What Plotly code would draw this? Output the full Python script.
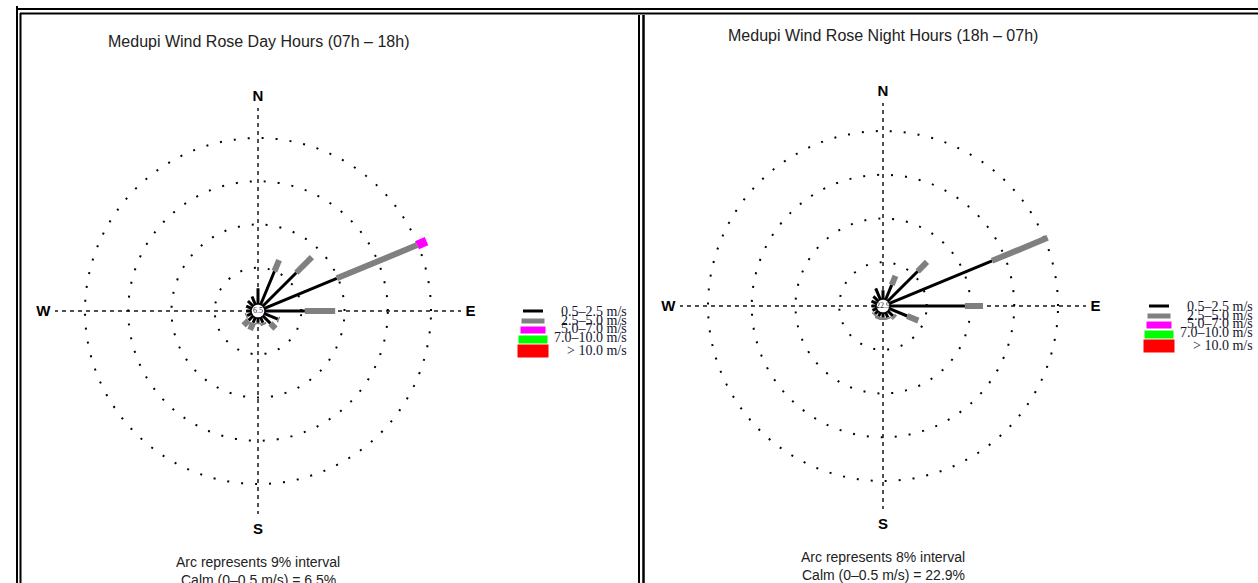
import plotly.graph_objects as go

W, H = 1258, 583

# Compass sectors (16-point rose) and their bearings in degrees
DIRECTIONS = ["N", "NNE", "NE", "ENE", "E", "ESE", "SE", "SSE",
              "S", "SSW", "SW", "WSW", "W", "WNW", "NW", "NNW"]
DIR_DEGREES = [0, 22.5, 45, 67.5, 90, 112.5, 135, 157.5,
               180, 202.5, 225, 247.5, 270, 292.5, 315, 337.5]

SPEED_CLASSES = ["0.5\u20132.5 m/s", "2.5\u20135.0 m/s", "5.0\u20137.0 m/s",
                 "7.0\u201310.0 m/s", "> 10.0 m/s"]
CLASS_COLORS = ["#000000", "#808080", "#ff00ff", "#00ff00", "#ff0000"]

# Frequency (%) per direction for each speed class - day hours (07h-18h)
DAY_0_5_2_5 = [3.3, 7.5, 9.8, 16.3, 8.3, 3.0, 2.2, 1.2, 1.0, 1.2, 1.3, 1.0, 1.0, 1.2, 1.5, 1.8]
DAY_2_5_5_0 = [0.0, 2.5, 4.6, 18.1, 6.3, 0.3, 1.5, 0.5, 0.3, 1.6, 1.5, 0.3, 0.0, 0.0, 0.0, 0.0]
DAY_5_0_7_0 = [0.0, 0.0, 0.0, 2.1, 0.0, 0.0, 0.0, 0.0, 0.0, 0.0, 0.0, 0.0, 0.0, 0.0, 0.0, 0.0]
DAY_7_0_10_0 = [0.0, 0.0, 0.0, 0.0, 0.0, 0.0, 0.0, 0.0, 0.0, 0.0, 0.0, 0.0, 0.0, 0.0, 0.0, 0.0]
DAY_GT_10_0 = [0.0, 0.0, 0.0, 0.0, 0.0, 0.0, 0.0, 0.0, 0.0, 0.0, 0.0, 0.0, 0.0, 0.0, 0.0, 0.0]
DAY_CALM = 6.5
DAY_ARC = 9

# Frequency (%) per direction for each speed class - night hours (18h-07h)
NIGHT_0_5_2_5 = [1.6, 2.9, 7.7, 20.3, 13.7, 3.5, 1.3, 1.0, 0.8, 0.8, 0.8, 0.8, 0.8, 1.0, 1.2, 2.2]
NIGHT_2_5_5_0 = [0.0, 1.8, 2.4, 11.0, 3.3, 2.2, 0.5, 0.3, 0.5, 0.5, 0.3, 0.0, 0.0, 0.0, 0.0, 0.0]
NIGHT_5_0_7_0 = [0.0, 0.0, 0.0, 0.0, 0.0, 0.0, 0.0, 0.0, 0.0, 0.0, 0.0, 0.0, 0.0, 0.0, 0.0, 0.0]
NIGHT_7_0_10_0 = [0.0, 0.0, 0.0, 0.0, 0.0, 0.0, 0.0, 0.0, 0.0, 0.0, 0.0, 0.0, 0.0, 0.0, 0.0, 0.0]
NIGHT_GT_10_0 = [0.0, 0.0, 0.0, 0.0, 0.0, 0.0, 0.0, 0.0, 0.0, 0.0, 0.0, 0.0, 0.0, 0.0, 0.0, 0.0]
NIGHT_CALM = 22.9
NIGHT_ARC = 8

DAY_TITLE = "Medupi Wind Rose Day Hours (07h \u2013 18h)"
NIGHT_TITLE = "Medupi Wind Rose Night Hours (18h \u2013 07h)"

SANS = "Liberation Sans, Arial, sans-serif"
SERIF = "Liberation Serif, Times New Roman, serif"

# bar thickness (px) for each speed class, thicker for stronger winds
BAR_WIDTHS = [3, 6, 9, 11, 13]


def px(x):
    return x / W


def py(y):
    return 1 - y / H


panels = [
    dict(polar="polar", classes=[DAY_0_5_2_5, DAY_2_5_5_0, DAY_5_0_7_0, DAY_7_0_10_0, DAY_GT_10_0],
         calm=DAY_CALM, arc=DAY_ARC, title=DAY_TITLE, cx=258, cy=311, radius=203,
         ring_px=173, calm_px=7, title_y=41, foot_y=562, legend_x=533),
    dict(polar="polar2", classes=[NIGHT_0_5_2_5, NIGHT_2_5_5_0, NIGHT_5_0_7_0, NIGHT_7_0_10_0, NIGHT_GT_10_0],
         calm=NIGHT_CALM, arc=NIGHT_ARC, title=NIGHT_TITLE, cx=883, cy=306, radius=203,
         ring_px=175, calm_px=7, title_y=36, foot_y=557, legend_x=1159),
]

fig = go.Figure()
shapes = []
annotations = []


def note(text, x, y, size, family=SANS, color="#222", xanchor="center"):
    annotations.append(dict(text=text, x=px(x), y=py(y), xref="paper", yref="paper",
                            xanchor=xanchor, yanchor="middle", showarrow=False,
                            font=dict(family=family, size=size, color=color)))


for p in panels:
    rings = [p["arc"] * k for k in (1, 2, 3, 4)]
    units_per_px = rings[-1] / p["ring_px"]
    rmax = p["radius"] * units_per_px
    calm_r = p["calm_px"] * units_per_px

    # stacked speed-class bars, each direction starting at the calm circle
    base = [calm_r] * len(DIRECTIONS)
    for ci, values in enumerate(p["classes"]):
        r, th = [], []
        for di, v in enumerate(values):
            if v > 0:
                r += [base[di], base[di] + v, None]
                th += [DIR_DEGREES[di], DIR_DEGREES[di], None]
                base[di] += v
        if r:
            fig.add_trace(go.Scatterpolar(
                r=r, theta=th, mode="lines", subplot=p["polar"],
                line=dict(color=CLASS_COLORS[ci], width=BAR_WIDTHS[ci]),
                showlegend=False, hoverinfo="skip"))

    # calm circle with its percentage
    circ_t = [i * 5 for i in range(73)]
    fig.add_trace(go.Scatterpolar(
        r=[calm_r] * len(circ_t), theta=circ_t, mode="lines", subplot=p["polar"],
        fill="toself", fillcolor="white", line=dict(color="black", width=1.5),
        showlegend=False, hoverinfo="skip"))
    fig.add_trace(go.Scatterpolar(
        r=[0], theta=[0], mode="text", text=[f"{p['calm']}"], subplot=p["polar"],
        textfont=dict(family=SERIF, size=8, color="#223"),
        showlegend=False, hoverinfo="skip"))

    d = p["radius"]
    fig.layout[p["polar"]] = dict(
        domain=dict(x=[px(p["cx"] - d), px(p["cx"] + d)],
                    y=[py(p["cy"] + d), py(p["cy"] - d)]),
        bgcolor="white",
        radialaxis=dict(range=[0, rmax], tickmode="array", tickvals=rings,
                        showticklabels=False, ticks="", showline=False,
                        gridcolor="#000", griddash="2px,12px", gridwidth=1.7),
        angularaxis=dict(direction="clockwise", rotation=90, tickmode="array",
                         tickvals=[0, 90, 180, 270],
                         ticktext=["<b>N</b>", "<b>E</b>", "<b>S</b>", "<b>W</b>"],
                         tickfont=dict(family=SANS, size=15, color="black"),
                         showline=False, ticks="outside", ticklen=1,
                         tickcolor="rgba(0,0,0,0)",
                         gridcolor="#505050", griddash="4px,4px", gridwidth=1.5),
    )

    note(p["title"], p["cx"], p["title_y"], 16)
    note(f"Arc represents {p['arc']}% interval", p["cx"], p["foot_y"], 14)
    note(f"Calm (0\u20130.5 m/s) = {p['calm']}%", p["cx"], p["foot_y"] + 18, 14)

    # speed-class key
    key_dy = [0, 10, 19, 28.5, 40]
    key_h = [3, 5, 7, 8, 13]
    key_w = [20, 23, 25, 29, 31]
    text_dy = [0, 9, 17, 26.5, 39]
    for k, label in enumerate(SPEED_CLASSES):
        yc = p["cy"] + key_dy[k]
        xc = p["legend_x"]
        shapes.append(dict(type="rect", xref="paper", yref="paper",
                           x0=px(xc - key_w[k] / 2), x1=px(xc + key_w[k] / 2),
                           y0=py(yc + key_h[k] / 2), y1=py(yc - key_h[k] / 2),
                           fillcolor=CLASS_COLORS[k], line=dict(width=0)))
        note(label, xc + 96, p["cy"] + text_dy[k], 14, family=SERIF,
             color="#151530", xanchor="right")

# page frame (double rules)
frame = [
    (16, 9, W, 9, 2), (20, 13.5, W, 13.5, 2),
    (17, 6, 17, H, 2), (20.5, 13, 20.5, H, 2),
    (639, 15, 639, H, 2), (643.5, 15, 643.5, H, 2.5),
]
for x0, y0, x1, y1, w in frame:
    shapes.append(dict(type="line", xref="paper", yref="paper",
                       x0=px(x0), y0=py(y0), x1=px(x1), y1=py(y1),
                       line=dict(color="black", width=w)))

fig.update_layout(width=W, height=H, margin=dict(l=0, r=0, t=0, b=0),
                  paper_bgcolor="white", plot_bgcolor="white",
                  shapes=shapes, annotations=annotations, showlegend=False)

fig.write_html("out.html")
